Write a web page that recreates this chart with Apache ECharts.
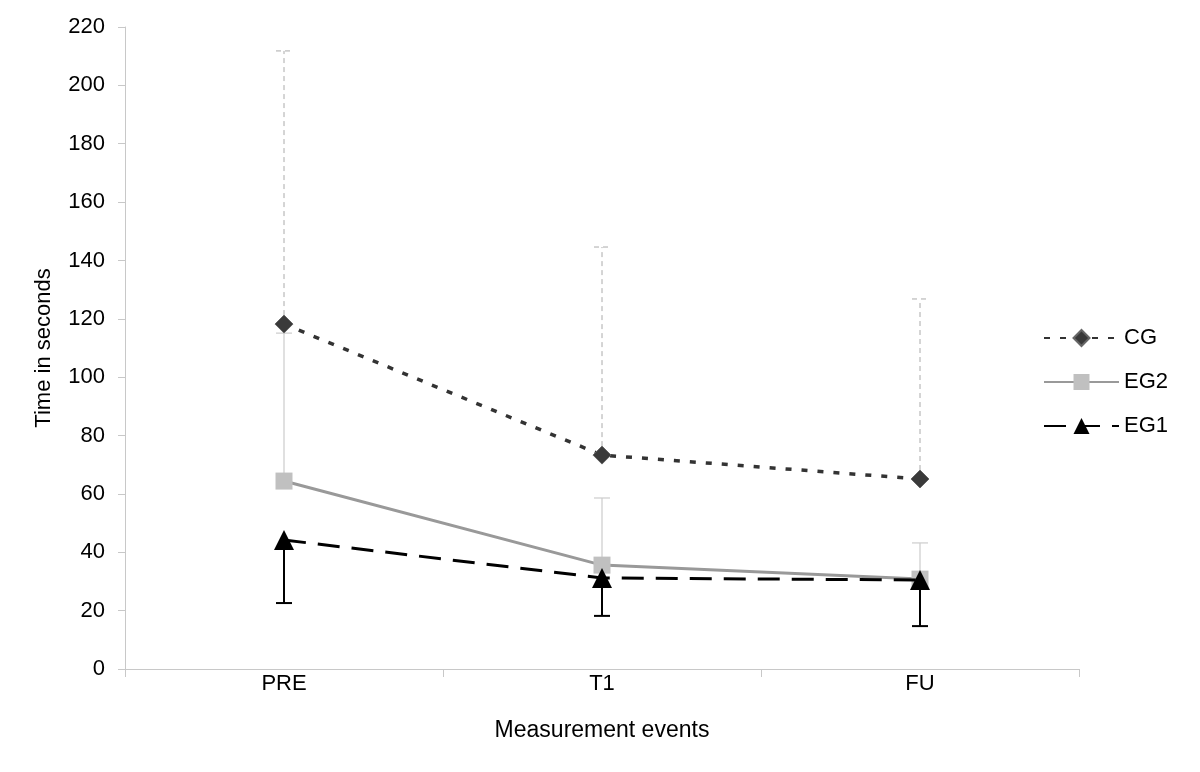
<!DOCTYPE html>
<html>
<head>
<meta charset="utf-8">
<script src="https://cdn.jsdelivr.net/npm/echarts@6/dist/echarts.min.js"></script>
<style>html,body{margin:0;padding:0;background:#fff;}#c{width:1200px;height:772px;}</style>
</head>
<body>
<div id="c"></div>
<script>
var categories = ['PRE', 'T1', 'FU'];
var cgMean = [118.2, 73.3, 65.1];
var cgUpper = [211.8, 144.6, 126.8];
var eg2Mean = [64.4, 35.6, 30.8];
var eg2Upper = [115.1, 58.6, 43.2];
var eg1Mean = [44.2, 31.2, 30.5];
var eg1Lower = [22.6, 18.2, 14.7];
var yTicks = [0, 20, 40, 60, 80, 100, 120, 140, 160, 180, 200, 220];

var FONT = '"Liberation Sans", Arial, sans-serif';

function errData(mean, bound) {
  return mean.map(function (m, i) { return [i, m, bound[i]]; });
}
function errSeries(name, mean, bound, color, width, dash, capHalf) {
  return {
    type: 'custom',
    name: name,
    z: 1,
    silent: true,
    data: errData(mean, bound),
    renderItem: function (params, api) {
      var p1 = api.coord([api.value(0), api.value(1)]);
      var p2 = api.coord([api.value(0), api.value(2)]);
      var style = { stroke: color, lineWidth: width, lineDash: dash };
      return {
        type: 'group',
        children: [
          { type: 'line', shape: { x1: p1[0], y1: p1[1], x2: p2[0], y2: p2[1] }, style: style },
          { type: 'line', shape: { x1: p2[0] - capHalf, y1: p2[1], x2: p2[0] + capHalf, y2: p2[1] }, style: style }
        ]
      };
    }
  };
}

var chart = echarts.init(document.getElementById('c'));
chart.setOption({
  animation: false,
  backgroundColor: '#fff',
  grid: { left: 125, right: 121, top: 27, bottom: 103 },
  legend: {
    data: ['CG', 'EG2', 'EG1'],
    orient: 'vertical',
    left: 1038,
    top: 322,
    itemWidth: 75,
    itemHeight: 20,
    itemGap: 22,
    textStyle: { fontFamily: FONT, fontSize: 22, color: '#000' }
  },
  xAxis: {
    type: 'category',
    data: categories,
    boundaryGap: true,
    name: 'Measurement events',
    nameLocation: 'middle',
    nameGap: 50,
    nameMoveOverlap: false,
    nameTextStyle: { fontFamily: FONT, fontSize: 23, color: '#000' },
    axisLine: { lineStyle: { color: '#c8c8c8', width: 1 } },
    axisTick: { show: true, length: 8, lineStyle: { color: '#c8c8c8' } },
    axisLabel: { fontFamily: FONT, fontSize: 22, color: '#000', margin: 4 }
  },
  yAxis: {
    type: 'value',
    min: 0,
    max: 220,
    interval: 20,
    name: 'Time in seconds',
    nameLocation: 'middle',
    nameGap: 70,
    nameMoveOverlap: false,
    nameRotate: 90,
    nameTextStyle: { fontFamily: FONT, fontSize: 22, color: '#000' },
    splitLine: { show: false },
    axisLine: { show: true, lineStyle: { color: '#c8c8c8', width: 1 } },
    axisTick: { show: true, length: 7, lineStyle: { color: '#c8c8c8' } },
    axisLabel: {
      fontFamily: FONT, fontSize: 22, color: '#000', margin: 20,
      formatter: function (v) { return yTicks.indexOf(v) >= 0 ? String(v) : ''; }
    }
  },
  series: [
    errSeries('CG err', cgMean, cgUpper, '#aaaaaa', 1, [5, 4], 8),
    errSeries('EG2 err', eg2Mean, eg2Upper, '#cccccc', 1.2, null, 8),
    errSeries('EG1 err', eg1Mean, eg1Lower, '#000000', 2, null, 8),
    {
      name: 'CG', type: 'line', data: cgMean, z: 3,
      symbol: 'diamond', symbolSize: 18,
      itemStyle: { color: '#3a3a3a', borderColor: '#666', borderWidth: 1 },
      lineStyle: { color: '#333333', width: 3.5, type: [6, 10] }
    },
    {
      name: 'EG2', type: 'line', data: eg2Mean, z: 4,
      symbol: 'rect', symbolSize: 17,
      itemStyle: { color: '#c0c0c0' },
      lineStyle: { color: '#999999', width: 3, type: 'solid' }
    },
    {
      name: 'EG1', type: 'line', data: eg1Mean, z: 5,
      symbol: 'triangle', symbolSize: 20,
      itemStyle: { color: '#000000' },
      lineStyle: { color: '#000000', width: 3, type: [22, 12] }
    }
  ]
});
</script>
</body>
</html>
